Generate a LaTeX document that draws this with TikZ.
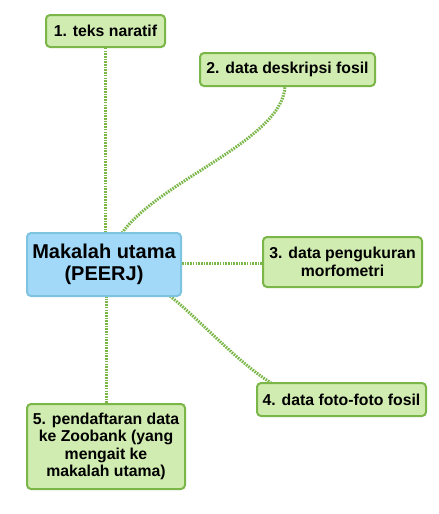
\documentclass[tikz,border=0pt]{standalone}
\usepackage{fontspec}
\setmainfont{Liberation Sans}
\definecolor{gfill}{HTML}{D0ECB0}
\definecolor{gline}{HTML}{7AB648}
\definecolor{bfill}{HTML}{A3D9F8}
\definecolor{bline}{HTML}{7EC3E0}
\tikzset{
  leaf/.style={draw=gline, fill=gfill, line width=2pt, rounded corners=4pt, inner sep=0pt, align=center,
    font=\fontsize{15.8}{17.5}\selectfont\bfseries},
  hub/.style={draw=bline, fill=bfill, line width=2pt, rounded corners=4pt, inner sep=0pt, align=center,
    font=\fontsize{20}{22}\selectfont\bfseries},
  link/.style={draw=gline, line width=3pt, dash pattern=on 1.6pt off 1.1pt}
}
\begin{document}
\begin{tikzpicture}[x=1pt,y=-1pt]
\useasboundingbox (0,0) rectangle (439,514);
\fill[white] (0,0) rectangle (439,514);
% connectors first
\coordinate (h1) at (105,233);
\coordinate (h2) at (122,233);
\coordinate (h3) at (182,263);
\coordinate (h4) at (170,296);
\coordinate (h5) at (106,296);
\coordinate (e1) at (105,47);
\coordinate (e2) at (285,86);
\coordinate (e3) at (263,263);
\coordinate (e4) at (271,383);
\coordinate (e5) at (106,404);
\draw[link] (h1) -- (e1);
\draw[link] (h2) .. controls (160,180) and (283,140) .. (e2);
\draw[link] (h3) -- (e3);
\draw[link] (h4) .. controls (200,320) and (235,360) .. (e4);
\draw[link] (h5) -- (e5);
% nodes
\node[hub, minimum width=154pt, minimum height=63pt] (m) at (104,264.5) {Makalah utama\\(PEERJ)};
\node[leaf, minimum width=119pt, minimum height=32pt] (n1) at (105.5,31) {1. teks naratif};
\node[leaf, minimum width=175pt, minimum height=33pt] (n2) at (287.5,69.5) {2. data deskripsi fosil};
\node[leaf, minimum width=159pt, minimum height=50pt] (n3) at (342.5,262) {3. data pengukuran\\morfometri};
\node[leaf, minimum width=169pt, minimum height=33pt] (n4) at (341.5,399.5) {4. data foto-foto fosil};
\node[leaf, minimum width=158pt, minimum height=85pt] (n5) at (106,446.5) {5. pendaftaran data\\ke Zoobank (yang\\mengait ke\\makalah utama)};
\end{tikzpicture}
\end{document}
